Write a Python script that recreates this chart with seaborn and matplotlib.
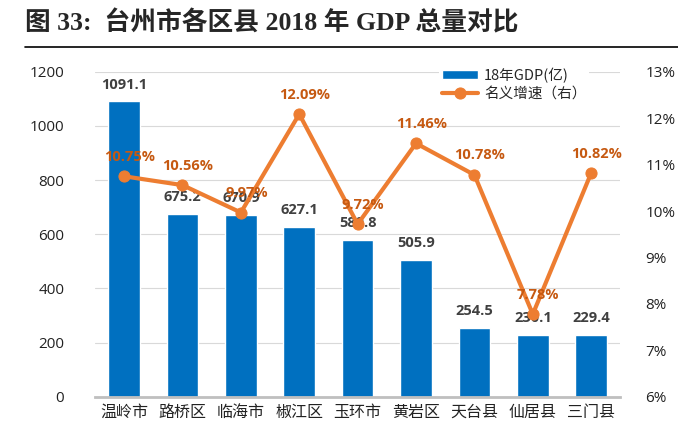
import seaborn as sns
import matplotlib.pyplot as plt
import pandas as pd

counties = ['温岭市', '路桥区', '临海市', '椒江区', '玉环市', '黄岩区', '天台县', '仙居县', '三门县']
gdp = [1091.1, 675.2, 670.9, 627.1, 580.8, 505.9, 254.5, 230.1, 229.4]
growth = [10.75, 10.56, 9.97, 12.09, 9.72, 11.46, 10.78, 7.78, 10.82]
left_ticks = [0, 200, 400, 600, 800, 1000, 1200]
right_ticks = [6, 7, 8, 9, 10, 11, 12, 13]

BLUE = '#0070C0'
ORANGE = '#ED7D31'

sns.set_style('white')
plt.rcParams['font.family'] = ['Open Sans', 'Noto Sans CJK SC', 'DejaVu Sans']
cjk = ['Noto Sans CJK SC', 'DejaVu Sans']
serif_title = ['Liberation Serif', 'Noto Sans CJK SC']

df = pd.DataFrame({'county': counties, 'gdp': gdp, 'growth': growth})

fig = plt.figure(figsize=(6.78, 4.38), dpi=100)
ax = fig.add_axes([0.14, 0.094, 0.775, 0.742])

sns.barplot(data=df, x='county', y='gdp', color=BLUE, width=0.54,
            saturation=1, ax=ax, label='18年GDP(亿)', zorder=2)
if ax.get_legend() is not None:
    ax.get_legend().remove()
ax.set_ylim(0, 1200)
ax.set_yticks(left_ticks)
ax.set_xlim(-0.5, len(counties) - 0.5)
ax.grid(axis='y', color='#d9d9d9', linewidth=0.8, zorder=0)
ax.set_axisbelow(True)
for s in ['top', 'right', 'left']:
    ax.spines[s].set_visible(False)
ax.spines['bottom'].set_color('#bfbfbf')
ax.spines['bottom'].set_linewidth(2)
ax.tick_params(axis='both', length=0, labelsize=11, colors='#222222')
ax.tick_params(axis='y', pad=22)
ax.tick_params(axis='x', pad=5)
ax.set_xlabel('')
ax.set_ylabel('')
ax.set_xticks(range(len(counties)))
ax.set_xticklabels(counties, family=cjk, fontsize=11.5)

for i, v in enumerate(gdp):
    ax.annotate(f'{v:.1f}', (i, v), xytext=(0, 7), textcoords='offset points',
                ha='center', va='bottom', fontsize=10.5, fontweight='bold',
                color='#404040')

ax2 = ax.twinx()
sns.lineplot(data=df, x='county', y='growth', color=ORANGE, linewidth=3,
             marker='o', markersize=8, markeredgecolor=ORANGE,
             ax=ax2, label='名义增速（右）', sort=False, legend=False)
ax2.set_ylim(6, 13)
ax2.set_yticks(right_ticks)
ax2.set_yticklabels([f'{t}%' for t in right_ticks])
ax2.tick_params(axis='y', length=0, labelsize=11, colors='#222222', pad=18)
for s in ax2.spines.values():
    s.set_visible(False)
ax2.set_ylabel('')
ax2.set_xlabel('')

for i, v in enumerate(growth):
    ax2.annotate(f'{v:.2f}%', (i, v), xytext=(4, 9), textcoords='offset points',
                 ha='center', va='bottom', fontsize=10.5, fontweight='bold',
                 color='#C65911')

h1, l1 = ax.get_legend_handles_labels()
h2, l2 = ax2.get_legend_handles_labels()
leg = ax2.legend(h1 + h2, l1 + l2, loc='upper right', bbox_to_anchor=(0.955, 1.045),
                 frameon=True, fancybox=False, edgecolor='none', framealpha=1,
                 prop={'family': cjk, 'size': 10.5}, handlelength=2.5,
                 handleheight=0.5, handletextpad=0.4, borderpad=0.2,
                 labelspacing=0.25)

fig.text(0.037, 0.948, '图 33:  台州市各区县 2018 年 GDP 总量对比',
         family=serif_title, fontsize=18.5, fontweight='bold', va='center')
fig.add_artist(plt.Line2D([0.037, 1.0], [0.893, 0.893], color='black',
                          linewidth=1.2, transform=fig.transFigure))

plt.savefig('out.png', dpi=100)
